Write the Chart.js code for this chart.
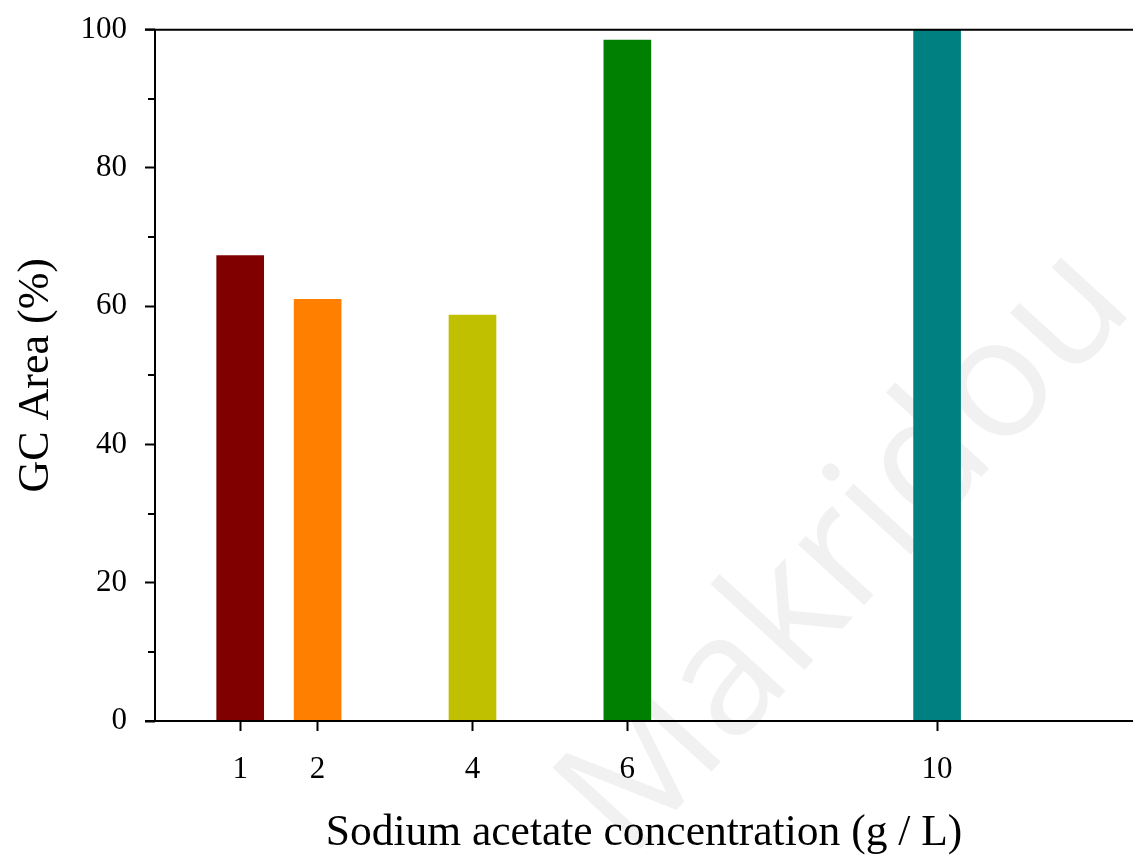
<!DOCTYPE html>
<html>
<head>
<meta charset="utf-8">
<script src="https://cdn.jsdelivr.net/npm/chart.js@4/dist/chart.umd.min.js"></script>
<style>
html,body{margin:0;padding:0;background:#fff;overflow:hidden;}
#wrap{width:1133px;height:861px;}
</style>
</head>
<body>
<div id="wrap"><canvas id="c" width="1133" height="861"></canvas></div>
<script>
const concentrations = [1, 2, 4, 6, 10];
const gcArea = [67.3, 61.0, 58.7, 98.5, 100];
const barColors = ['#800000', '#FF8000', '#C0C000', '#008000', '#008080'];
const xTickValues = [1, 2, 4, 6, 10];
const yTickValues = [0, 20, 40, 60, 80, 100];
const yMinorTicks = [10, 30, 50, 70, 90];
const xTitle = 'Sodium acetate concentration (g / L)';
const yTitle = 'GC Area (%)';
const watermark = 'Makridou';

const serif = "'Liberation Serif', 'Times New Roman', serif";

const decor = {
  id: 'decor',
  beforeDatasetsDraw(chart) {
    const ctx = chart.ctx;
    ctx.save();
    ctx.translate(848, 552);
    ctx.rotate(-47.5 * Math.PI / 180);
    ctx.font = "168px 'Open Sans', 'DejaVu Sans', sans-serif";
    ctx.fillStyle = 'rgba(0,0,0,0.055)';
    ctx.textAlign = 'center';
    ctx.textBaseline = 'middle';
    ctx.fillText(watermark, 0, 0);
    ctx.restore();
  },
  afterDraw(chart) {
    const ctx = chart.ctx;
    const a = chart.chartArea;
    const y = chart.scales.y;
    ctx.save();
    ctx.strokeStyle = '#000';
    ctx.lineWidth = 2;
    ctx.beginPath();
    ctx.moveTo(a.left - 10, a.top);
    ctx.lineTo(a.right, a.top);
    ctx.moveTo(a.left - 10, a.bottom);
    ctx.lineTo(a.right, a.bottom);
    ctx.moveTo(a.left, a.top);
    ctx.lineTo(a.left, a.bottom);
    yMinorTicks.forEach(v => {
      const py = Math.round(y.getPixelForValue(v));
      ctx.moveTo(a.left - 7, py);
      ctx.lineTo(a.left, py);
    });
    ctx.stroke();
    ctx.restore();
  }
};

new Chart(document.getElementById('c'), {
  type: 'bar',
  data: {
    datasets: [{
      data: concentrations.map((x, i) => ({x: x, y: gcArea[i]})),
      backgroundColor: barColors,
      borderWidth: 0,
      barThickness: 47
    }]
  },
  options: {
    responsive: false,
    animation: false,
    devicePixelRatio: 1,
    layout: {padding: {top: 10, right: 0, left: 0, bottom: 0}},
    plugins: {legend: {display: false}, tooltip: {enabled: false}},
    scales: {
      x: {
        type: 'linear',
        offset: false,
        min: -0.1,
        max: 12.53,
        afterBuildTicks: s => { s.ticks = xTickValues.map(v => ({value: v})); },
        afterFit: s => { s.height = 140; },
        grid: {display: true, offset: false, drawOnChartArea: false, drawTicks: true, tickLength: 10, tickColor: '#000', tickWidth: 2},
        border: {display: false},
        ticks: {color: '#000', font: {family: serif, size: 31, lineHeight: 1.2}, padding: 20, maxRotation: 0, autoSkip: false},
        title: {display: true, text: xTitle, color: '#000', font: {family: serif, size: 43.5}, padding: {top: 0, bottom: 1}, align: 'center'}
      },
      y: {
        min: 0,
        max: 100,
        afterBuildTicks: s => { s.ticks = yTickValues.map(v => ({value: v})); },
        afterFit: s => { s.width = 155; },
        grid: {display: true, drawOnChartArea: false, drawTicks: true, tickLength: 10, tickColor: '#000', tickWidth: 2},
        border: {display: false},
        ticks: {color: '#000', font: {family: serif, size: 31, lineHeight: 0.75}, padding: 18},
        title: {display: true, text: yTitle, color: '#000', font: {family: serif, size: 44}, padding: {top: 10, bottom: 0}}
      }
    }
  },
  plugins: [decor]
});
</script>
</body>
</html>
